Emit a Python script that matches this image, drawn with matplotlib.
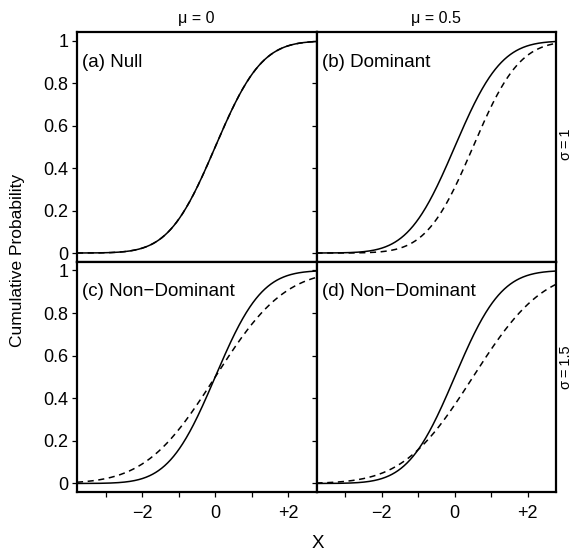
import math
import numpy as np
import matplotlib
matplotlib.use("Agg")
import matplotlib.pyplot as plt

plt.rcParams['font.family'] = ['Liberation Sans', 'DejaVu Sans']

# Data: parameters of the normal distributions shown
col_mu = [0.0, 0.5]
row_sigma = [1.0, 1.5]
col_labels = ["\u03bc = 0", "\u03bc = 0.5"]
row_labels = ["\u03c3\u2009=\u20091", "\u03c3\u2009=\u20091.5"]
panel_labels = [["(a) Null", "(b) Dominant"],
                ["(c) Non\u2212Dominant", "(d) Non\u2212Dominant"]]
ref_mu, ref_sigma = 0.0, 1.0
x_ticks = [-3, -2, -1, 0, 1, 2]
x_ticklabels = ["", "\u22122", "", "0", "", "+2"]
y_ticks = [0, 0.2, 0.4, 0.6, 0.8, 1.0]
y_ticklabels = ["0", "0.2", "0.4", "0.6", "0.8", "1"]

xlim = (-3.78, 2.77)
ylim = (-0.04, 1.042)

def norm_cdf(x, mu, s):
    return np.array([0.5 * (1 + math.erf((v - mu) / (s * math.sqrt(2)))) for v in x])

W, H = 576, 550
fig = plt.figure(figsize=(W / 100, H / 100), dpi=100)

left_px, mid_px, right_px = 77, 316.5, 556
top_px, midy_px, bot_px = 32, 261.5, 492
row_label_y = [144, 367]

xs = np.linspace(xlim[0], xlim[1], 400)
for r in range(2):
    for c in range(2):
        x0 = (left_px if c == 0 else mid_px) / W
        x1 = (mid_px if c == 0 else right_px) / W
        ytop = (top_px if r == 0 else midy_px)
        ybot = (midy_px if r == 0 else bot_px)
        ax = fig.add_axes([x0, 1 - ybot / H, x1 - x0, (ybot - ytop) / H])
        ax.plot(xs, norm_cdf(xs, ref_mu, ref_sigma), color='black', lw=1.1)
        ax.plot(xs, norm_cdf(xs, col_mu[c], row_sigma[r]), color='black', lw=1.1,
                dashes=(4, 3))
        ax.set_xlim(*xlim)
        ax.set_ylim(*ylim)
        for sp in ax.spines.values():
            sp.set_linewidth(1.6)
        ax.set_xticks(x_ticks)
        ax.set_yticks(y_ticks)
        ax.tick_params(direction='out', length=3.6, width=0.9, colors='black',
                       labelsize=13)
        ax.tick_params(axis='x', pad=5.5)
        ax.tick_params(axis='y', pad=2.5)
        if r == 1:
            ax.set_xticklabels(x_ticklabels)
        else:
            ax.set_xticklabels([])
        if c == 0:
            ax.set_yticklabels(y_ticklabels)
        else:
            ax.set_yticklabels([])
        ax.text(0.022, 0.905, panel_labels[r][c], transform=ax.transAxes,
                fontsize=13.5, va='top', ha='left')
        if r == 0:
            ax.text(0.5, 1.025, col_labels[c], transform=ax.transAxes,
                    fontsize=11.5, ha='center', va='bottom')
        if c == 1:
            fig.text(566 / W, 1 - row_label_y[r] / H, row_labels[r],
                     fontsize=10.5, ha='center', va='center', rotation=90)

fig.text(18 / W, 1 - 260 / H, "Cumulative Probability", rotation=90,
         ha='center', va='center', fontsize=12.5)
fig.text(318 / W, 1 - 543 / H, "X", ha='center', va='center', fontsize=13.5)

fig.savefig("out.png", dpi=100)
